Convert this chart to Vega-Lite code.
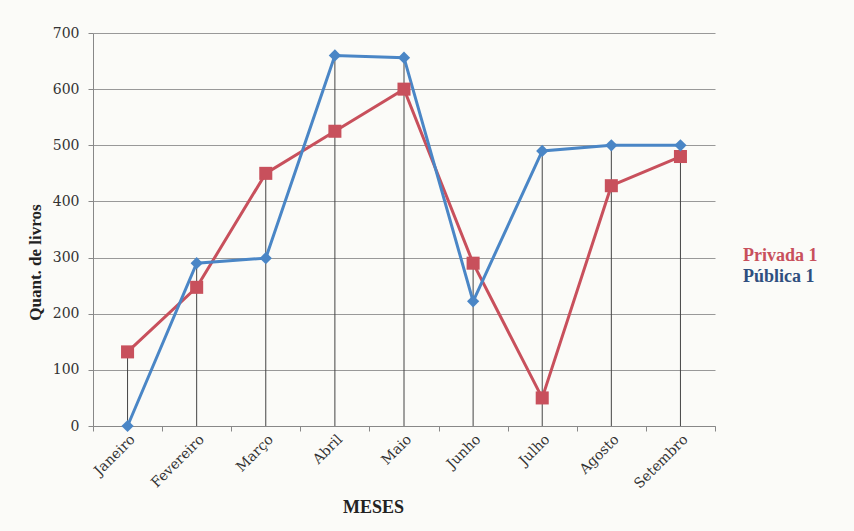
{
  "$schema": "https://vega.github.io/schema/vega-lite/v6.json",
  "width": 622,
  "height": 393,
  "autosize": {"type": "none"},
  "padding": {"left": 93, "top": 33, "right": 139, "bottom": 105},
  "background": "#fbfbf8",
  "config": {
    "font": "Liberation Serif",
    "view": {"stroke": null},
    "axis": {"labelFont": "DejaVu Serif", "titleFont": "Liberation Serif", "labelColor": "#333", "titleColor": "#222"}
  },
  "data": {
    "values": [
      {"mes": "Janeiro", "serie": "Privada 1", "valor": 132},
      {"mes": "Fevereiro", "serie": "Privada 1", "valor": 247},
      {"mes": "Março", "serie": "Privada 1", "valor": 450},
      {"mes": "Abril", "serie": "Privada 1", "valor": 525},
      {"mes": "Maio", "serie": "Privada 1", "valor": 600},
      {"mes": "Junho", "serie": "Privada 1", "valor": 290},
      {"mes": "Julho", "serie": "Privada 1", "valor": 50},
      {"mes": "Agosto", "serie": "Privada 1", "valor": 428},
      {"mes": "Setembro", "serie": "Privada 1", "valor": 480},
      {"mes": "Janeiro", "serie": "Pública 1", "valor": 0},
      {"mes": "Fevereiro", "serie": "Pública 1", "valor": 290},
      {"mes": "Março", "serie": "Pública 1", "valor": 299},
      {"mes": "Abril", "serie": "Pública 1", "valor": 660},
      {"mes": "Maio", "serie": "Pública 1", "valor": 656},
      {"mes": "Junho", "serie": "Pública 1", "valor": 222},
      {"mes": "Julho", "serie": "Pública 1", "valor": 490},
      {"mes": "Agosto", "serie": "Pública 1", "valor": 500},
      {"mes": "Setembro", "serie": "Pública 1", "valor": 500}
    ]
  },
  "encoding": {
    "x": {
      "field": "mes",
      "type": "nominal",
      "sort": ["Janeiro", "Fevereiro", "Março", "Abril", "Maio", "Junho", "Julho", "Agosto", "Setembro"],
      "scale": {"paddingInner": 0, "paddingOuter": 0},
      "axis": {
        "title": "MESES",
        "titleFontSize": 18,
        "titleFontWeight": "bold",
        "titleX": 280,
        "titleY": 81,
        "titleBaseline": "middle",
        "labelAngle": -45,
        "labelFontSize": 14,
        "labelAlign": "right",
        "labelBaseline": "top",
        "labelPadding": 1,
        "tickBand": "extent",
        "tickSize": 5,
        "tickColor": "#888",
        "domainColor": "#888",
        "grid": false
      }
    }
  },
  "layer": [
    {
      "transform": [{"aggregate": [{"op": "max", "field": "valor", "as": "maxv"}], "groupby": ["mes"]}],
      "mark": {"type": "rule", "color": "#444", "strokeWidth": 1},
      "encoding": {
        "y": {"field": "maxv", "type": "quantitative", "scale": {"domain": [0, 700]},
          "axis": {
            "title": "Quant. de livros",
            "titleFontSize": 17,
            "titleFontWeight": "bold",
            "titleX": -58,
            "titleY": 229,
            "titleBaseline": "middle",
            "values": [0, 100, 200, 300, 400, 500, 600, 700],
            "labelFontSize": 14,
            "labelPadding": 9,
            "tickSize": 5,
            "tickColor": "#888",
            "domainColor": "#888",
            "gridColor": "#999",
            "gridWidth": 1
          }
        },
        "y2": {"datum": 0}
      }
    },
    {
      "mark": {"type": "line", "strokeWidth": 3},
      "encoding": {
        "y": {"field": "valor", "type": "quantitative"},
        "color": {
          "field": "serie",
          "type": "nominal",
          "scale": {"domain": ["Privada 1", "Pública 1"], "range": ["#c8505c", "#4a86c6"]},
          "legend": {
            "title": null,
            "orient": "none",
            "legendX": 632,
            "legendY": 214,
            "symbolOpacity": 0,
            "symbolSize": 0,
            "symbolStrokeWidth": 0,
            "labelFont": "Liberation Serif",
            "labelFontSize": 18,
            "labelFontWeight": "bold",
            "rowPadding": 3,
            "labelOffset": 0,
            "encode": {"labels": {"update": {"fill": {"signal": "datum.value === 'Privada 1' ? '#c8505c' : '#2f4f7f'"}}}}
          }
        },
        "order": {"field": "serie", "sort": "descending"}
      }
    },
    {
      "mark": {"type": "point", "filled": true, "opacity": 1},
      "encoding": {
        "y": {"field": "valor", "type": "quantitative"},
        "color": {"field": "serie", "type": "nominal", "legend": null},
        "shape": {"field": "serie", "type": "nominal", "scale": {"domain": ["Privada 1", "Pública 1"], "range": ["square", "diamond"]}, "legend": null},
        "size": {"field": "serie", "type": "nominal", "scale": {"domain": ["Privada 1", "Pública 1"], "range": [170, 150]}, "legend": null}
      }
    }
  ]
}
